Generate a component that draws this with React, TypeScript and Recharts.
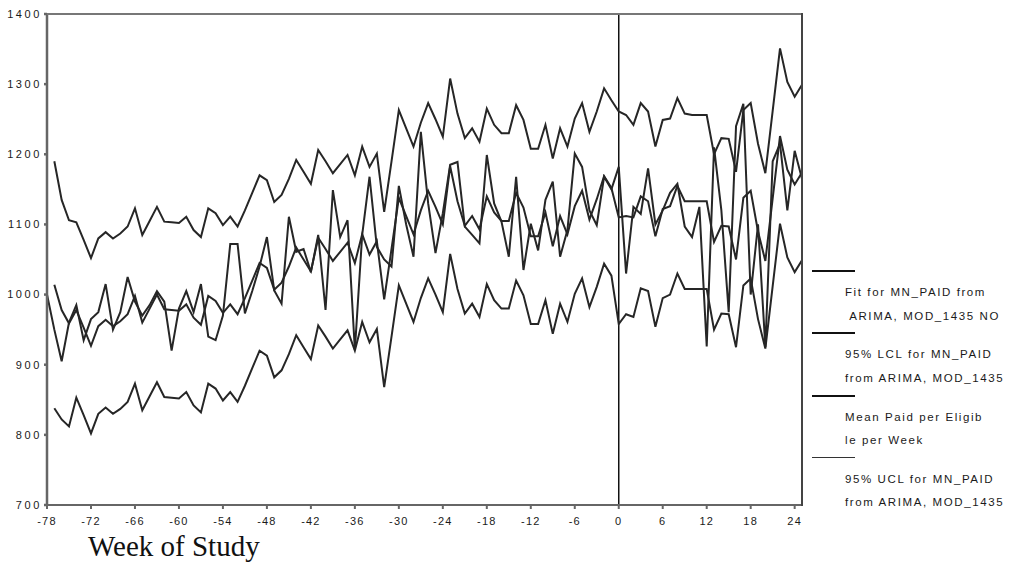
import { LineChart, Line, XAxis, YAxis, ReferenceLine } from 'recharts'

// week of study, -78 .. 25
const weeks = Array.from({ length: 104 }, (_, i) => i - 78)
const xTicks = [-78, -72, -66, -60, -54, -48, -42, -36, -30, -24, -18, -12, -6, 0, 6, 12, 18, 24]
const yTicks = [700, 800, 900, 1000, 1100, 1200, 1300, 1400]

// Mean Paid per Eligible per Week
const meanPaid = [
  1000, 950, 905, 960, 985, 935, 965, 975, 1015, 950,
  975, 1025, 990, 970, 985, 1005, 990, 920, 980, 1005,
  975, 1015, 940, 935, 970, 1072, 1072, 973, 1005, 1040,
  1082, 1006, 987, 1111, 1061, 1065, 1032, 1085, 978, 1149,
  1082, 1106, 921, 1085, 1168, 1068, 1050, 1040, 1155, 1100,
  1054, 1232, 1130, 1059, 1116, 1185, 1189, 1097, 1085, 1073,
  1199, 1130, 1104, 1054, 1168, 1035, 1101, 1063, 1135, 1161,
  1054, 1092, 1201, 1182, 1120, 1099, 1168, 1150, 1182, 1030,
  1125, 1115, 1180, 1100, 1120, 1145, 1158, 1097, 1082, 1125,
  926, 1210, 1120, 975, 1240, 1272, 1000, 1100, 925, 1190,
  1215, 1120, 1205, 1165,
]

// Fit for MN_PAID from ARIMA
const fit = [
  null, 1014, 978, 959, 978, 953, 927, 955, 964, 955,
  962, 972, 998, 960, 980, 1000, 979, 978, 977, 986,
  967, 957, 998, 991, 974, 986, 972, 995, 1020, 1045,
  1038, 1007, 1017, 1040, 1067, 1050, 1033, 1081, 1065, 1048,
  1061, 1074, 1045, 1086, 1057, 1076, 993, 1065, 1138, 1112,
  1086, 1120, 1148, 1125, 1100, 1183, 1133, 1098, 1112, 1093,
  1140, 1117, 1105, 1105, 1145, 1124, 1083, 1083, 1117, 1069,
  1112, 1086, 1126, 1148, 1107, 1136, 1169, 1152, 1110, 1112,
  1110, 1140, 1133, 1083, 1122, 1126, 1155, 1133, 1133, 1133,
  1133, 1075, 1098, 1097, 1050, 1138, 1148, 1090, 1048, 1137,
  1226, 1178, 1157, 1174,
]

// 95% LCL
const lcl = [
  null, 838, 822, 812, 853, 828, 802, 830, 839, 830,
  837, 847, 873, 835, 855, 875, 854, 853, 852, 861,
  842, 832, 873, 866, 849, 861, 847, 870, 895, 920,
  913, 882, 892, 915, 942, 925, 908, 956, 940, 923,
  936, 949, 920, 961, 932, 951, 868, 940, 1013, 987,
  961, 995, 1023, 1000, 975, 1058, 1008, 973, 987, 968,
  1015, 992, 980, 980, 1020, 999, 958, 958, 992, 944,
  987, 961, 1001, 1023, 982, 1011, 1044, 1027, 958, 972,
  968, 1009, 1005, 954, 995, 1000, 1030, 1008, 1008, 1008,
  1008, 950, 973, 972, 925, 1013, 1023, 965, 923, 1012,
  1101, 1053, 1032, 1049,
]

// 95% UCL
const ucl = [
  null, 1190, 1135, 1106, 1103, 1078, 1052, 1080, 1089, 1080,
  1087, 1097, 1123, 1085, 1105, 1125, 1104, 1103, 1102, 1111,
  1092, 1082, 1123, 1116, 1099, 1111, 1097, 1120, 1145, 1170,
  1163, 1132, 1142, 1165, 1192, 1175, 1158, 1206, 1190, 1173,
  1186, 1199, 1170, 1211, 1182, 1201, 1118, 1190, 1263, 1237,
  1211, 1245, 1273, 1250, 1225, 1308, 1258, 1223, 1237, 1218,
  1265, 1242, 1230, 1230, 1270, 1249, 1208, 1208, 1242, 1194,
  1237, 1211, 1251, 1273, 1232, 1261, 1294, 1277, 1261, 1256,
  1242, 1273, 1261, 1211, 1249, 1251, 1280, 1258, 1256, 1256,
  1256, 1200, 1223, 1222, 1175, 1263, 1273, 1215, 1173, 1262,
  1351, 1303, 1282, 1299,
]

const legendItems = [
  ['Fit for MN_PAID from', ' ARIMA, MOD_1435 NO'],
  ['95% LCL for MN_PAID', 'from ARIMA, MOD_1435'],
  ['Mean Paid per Eligib', 'le per Week'],
  ['95% UCL for MN_PAID', 'from ARIMA, MOD_1435'],
]

const data = weeks.map((w, i) => ({
  week: w,
  fit: fit[i],
  lcl: lcl[i],
  mean: meanPaid[i],
  ucl: ucl[i],
}))

const ink = '#262626'
const frame = '#666'

export default function App() {
  return (
    <div style={{ position: 'absolute', left: 0, top: 0, width: 1010, height: 569, background: '#fff', fontFamily: '"Liberation Sans", Arial, sans-serif' }}>
      <LineChart width={1010} height={569} data={data} margin={{ top: 14, right: 208, bottom: 44, left: 7 }}>
        <XAxis
          dataKey="week"
          type="number"
          domain={[-78, 25]}
          ticks={xTicks}
          interval={0}
          height={20}
          tickSize={4}
          tickMargin={8}
          stroke={frame}
          strokeWidth={2}
          tick={{ fill: '#1a1a1a', fontSize: 11, letterSpacing: 1.2 }}
        />
        <YAxis
          domain={[700, 1400]}
          ticks={yTicks}
          interval={0}
          width={40}
          tickSize={3}
          tickMargin={2}
          stroke={frame}
          strokeWidth={2.5}
          tick={{ fill: '#1a1a1a', fontSize: 11, letterSpacing: 2.6 }}
        />
        <ReferenceLine x={0} stroke="#111" strokeWidth={1.5} />
        <Line dataKey="ucl" stroke={ink} strokeWidth={2} dot={false} isAnimationActive={false} />
        <Line dataKey="lcl" stroke={ink} strokeWidth={2} dot={false} isAnimationActive={false} />
        <Line dataKey="fit" stroke={ink} strokeWidth={2} dot={false} isAnimationActive={false} />
        <Line dataKey="mean" stroke={ink} strokeWidth={2} dot={false} isAnimationActive={false} />
      </LineChart>

      {/* plot frame: top and right edges */}
      <div style={{ position: 'absolute', left: 47, top: 13, width: 755, height: 0, borderTop: '2px solid #777', pointerEvents: 'none' }} />
      <div style={{ position: 'absolute', left: 801, top: 13, width: 0, height: 493, borderLeft: '2px solid #444', pointerEvents: 'none' }} />

      {legendItems.map((lines, i) => (
        <div key={i}>
          <div style={{ position: 'absolute', left: 812, top: 270 + i * 62.3, width: 43, height: 0, borderTop: i === 3 ? '1.5px solid #333' : '2px solid #111' }} />
          {lines.map((t, j) => (
            <div
              key={j}
              style={{ position: 'absolute', left: 845, top: 286 + i * 62.3 + j * 23.5, fontSize: 11.5, letterSpacing: 1.6, color: '#1a1a1a', whiteSpace: 'pre' }}
            >
              {t}
            </div>
          ))}
        </div>
      ))}

      <div style={{ position: 'absolute', left: 88, top: 530, fontFamily: '"Liberation Serif", "Times New Roman", serif', fontSize: 29, color: '#111', whiteSpace: 'nowrap' }}>
        Week of Study
      </div>
    </div>
  )
}
